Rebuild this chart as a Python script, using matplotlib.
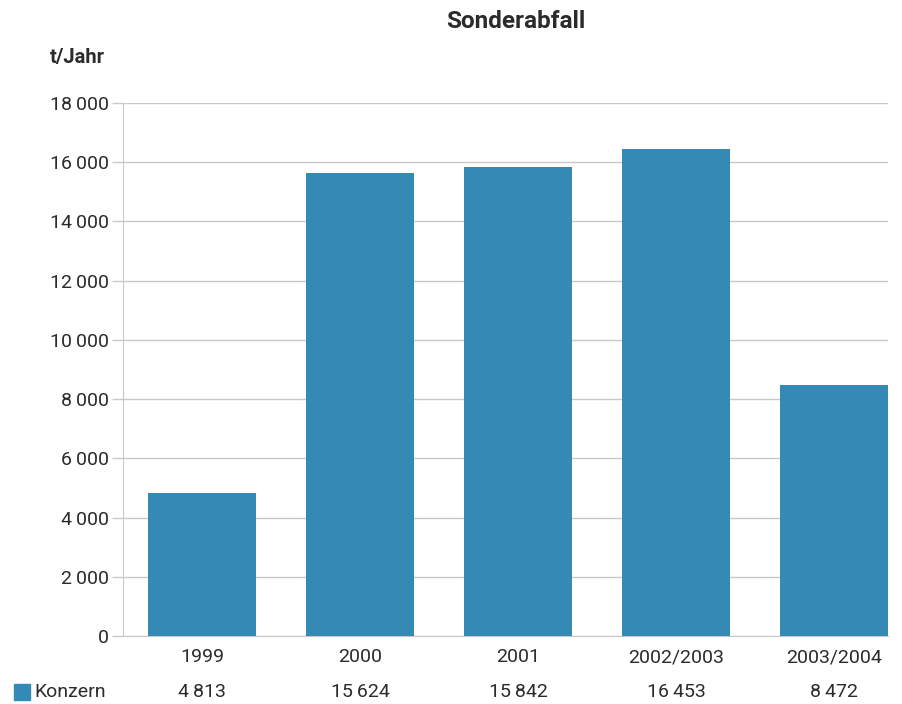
import numpy as np
import matplotlib
matplotlib.use('Agg')
import matplotlib.pyplot as plt
from matplotlib.patches import Rectangle

kategorien = ['1999', '2000', '2001', '2002/2003', '2003/2004']
konzern = [4813, 15624, 15842, 16453, 8472]
y_ticks = [0, 2000, 4000, 6000, 8000, 10000, 12000, 14000, 16000, 18000]

plt.rcParams['font.family'] = ['Roboto', 'DejaVu Sans']
farbe = '#3589b5'
text_col = '#2b2b2b'

def fmt(v):
    return '{:,}'.format(v).replace(',', '\u2009')

fig = plt.figure(figsize=(9.02, 7.04), dpi=100)
W, H = 902, 704
ax = fig.add_axes([123 / W, 1 - 636 / H, (888 - 123) / W, (636 - 103) / H])

x = np.arange(len(kategorien))
ax.bar(x, konzern, width=0.68, color=farbe, zorder=3)

ax.set_xlim(-0.5, 4 + (888 - 834) / 158)
ax.set_ylim(0, 18000)
ax.set_yticks(y_ticks)
ax.set_yticklabels([fmt(v) for v in y_ticks], fontsize=14, color=text_col)
ax.set_xticks(x)
ax.set_xticklabels(kategorien, fontsize=14, color=text_col)
ax.tick_params(axis='y', length=8, color='#c8c8c8', width=1, pad=2)
ax.tick_params(axis='x', length=0, pad=9)
ax.grid(axis='y', color='#c8c8c8', linewidth=1, zorder=0)
for s in ['top', 'right']:
    ax.spines[s].set_visible(False)
ax.spines['left'].set_color('#c8c8c8')
ax.spines['bottom'].set_color('#c8c8c8')

fig.text(516 / W, 1 - 21 / H, 'Sonderabfall', ha='center', va='center',
         fontsize=17.5, fontweight='bold', color=text_col)
fig.text(50 / W, 1 - 57 / H, 't/Jahr', ha='left', va='center',
         fontsize=14.5, fontweight='bold', color=text_col)

# Datentabelle unten
fig.patches.append(Rectangle((14 / W, 1 - 700 / H), 16 / W, 16 / H,
                             transform=fig.transFigure, color=farbe))
fig.text(34 / W, 1 - 692 / H, 'Konzern', ha='left', va='center',
         fontsize=14, color=text_col)
for xi, v in zip(x, konzern):
    ax.annotate(fmt(v), xy=(xi, 0), xycoords='data',
                xytext=(0, -56), textcoords='offset pixels',
                ha='center', va='center', fontsize=14, color=text_col,
                annotation_clip=False)

fig.savefig('out.png', dpi=100)
